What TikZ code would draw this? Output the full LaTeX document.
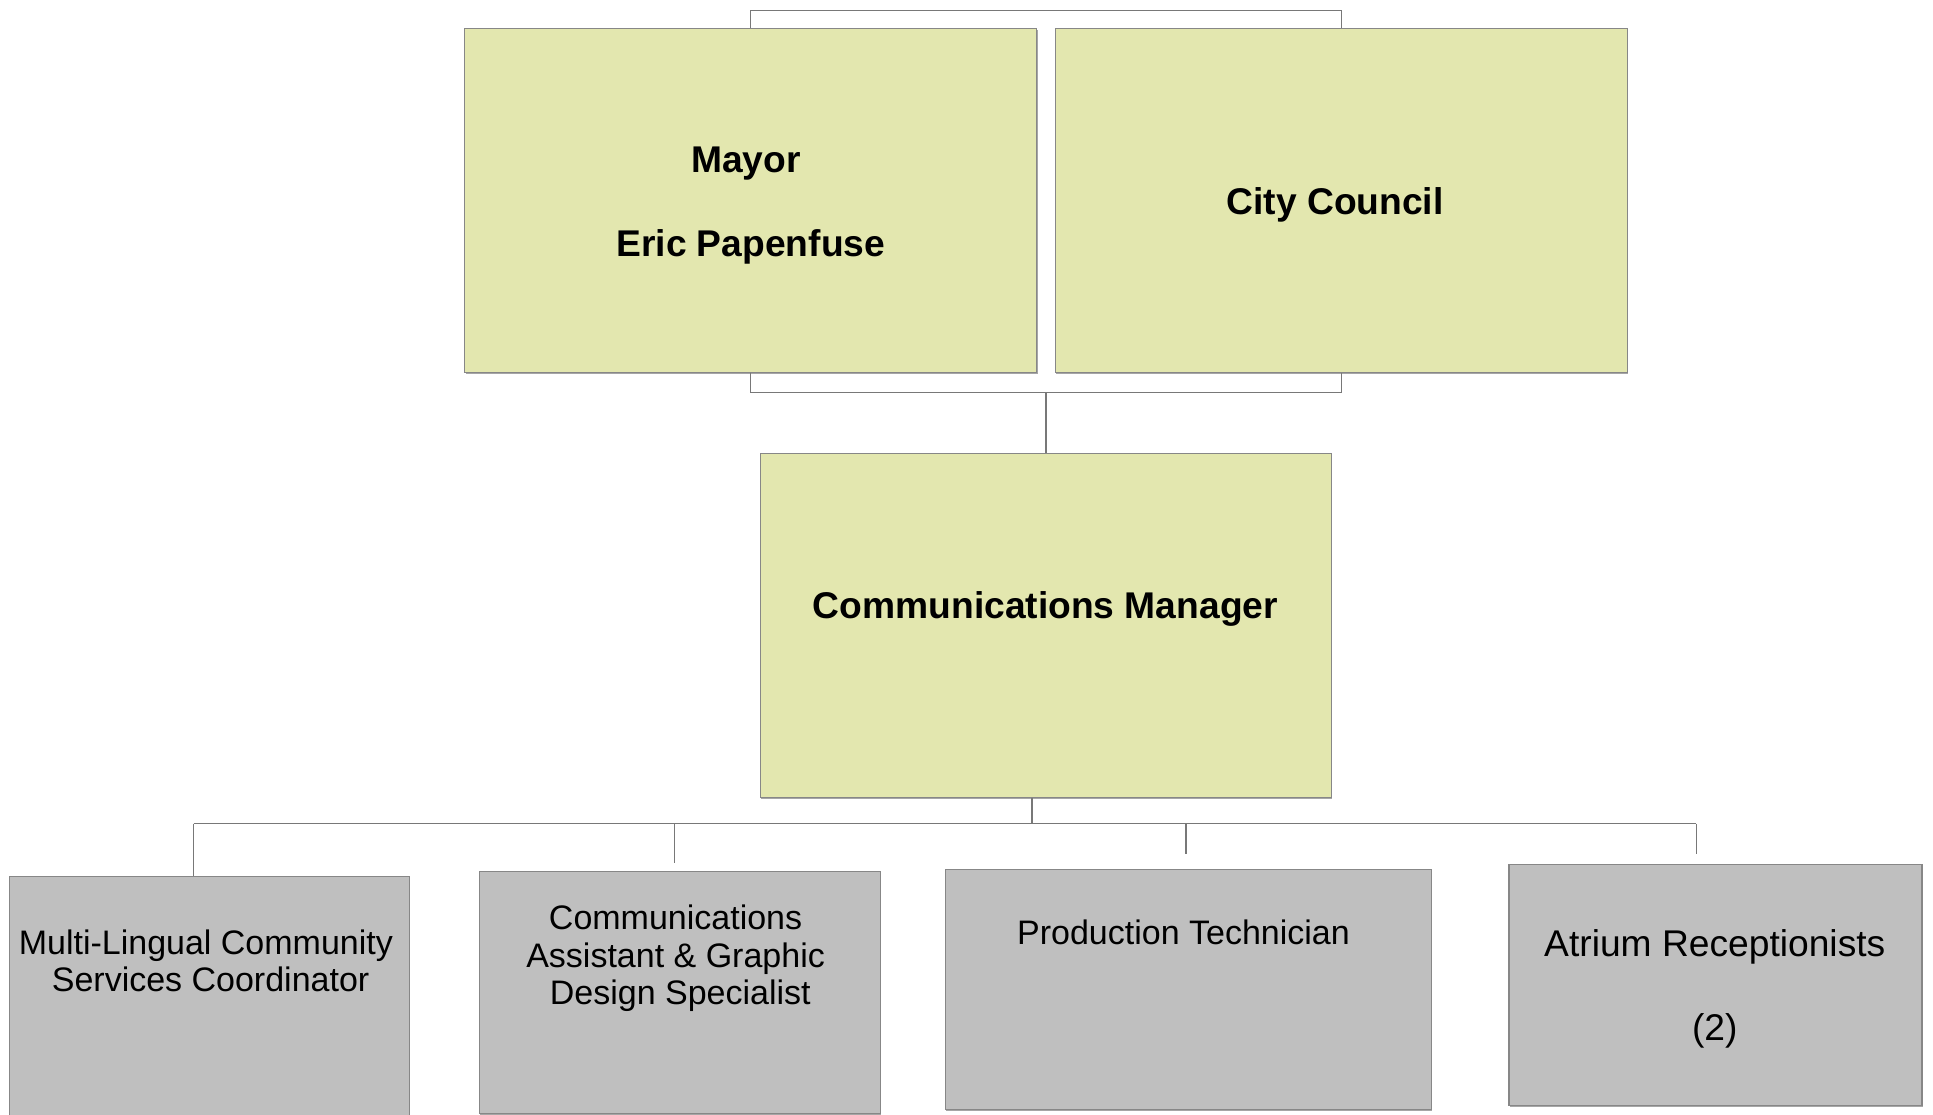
\documentclass[tikz,border=0pt]{standalone}
\usepackage{fontspec}
\setmainfont{Liberation Sans}
\usetikzlibrary{fit,shadows}
\definecolor{boxyel}{RGB}{227,231,175}
\definecolor{boxgray}{RGB}{191,191,191}
\definecolor{edgegray}{RGB}{135,135,135}
\definecolor{linegray}{RGB}{120,120,120}
\begin{document}
\begin{tikzpicture}[x=0.6164pt,y=-0.6164pt,
  basebox/.style={rectangle, draw=edgegray, line width=0.6pt, inner sep=0pt,
    drop shadow={shadow xshift=0.4pt, shadow yshift=-0.7pt, opacity=0.35, fill=black}},
  ybox/.style={basebox, fill=boxyel},
  gbox/.style={basebox, fill=boxgray},
  btext/.style={inner sep=0pt, font=\fontsize{18.6}{20}\selectfont\bfseries},
  rtext/.style={inner sep=0pt, align=center, font=\fontsize{17}{18.8}\selectfont},
  ltext/.style={inner sep=0pt, font=\fontsize{18.6}{20}\selectfont},
  conn/.style={draw=linegray, line width=0.7pt}]
\path[use as bounding box, clip] (0,0) rectangle (1568,904);
\fill[white] (0,0) rectangle (1568,904);

% top boxes
\node[ybox, fit={(377,23)(841,302)}] (mayor) {};
\node[ybox, fit={(856,23)(1320,302)}] (council) {};
\node[ybox, fit={(617,368)(1080,647)}] (cm) {};

% bottom boxes
\node[gbox, fit={(8,711)(332,912)}] (mlc) {};
\node[gbox, fit={(389,707)(714,903.5)}] (cas) {};
\node[gbox, fit={(767,705)(1161,900)}] (pt) {};
\node[gbox, fit={(1224,701)(1559,897)}] (ar) {};

% texts
\node[btext] (t-mayor) at (605,133) {Mayor};
\node[btext] (t-eric) at (609,200) {Eric Papenfuse};
\node[btext] (t-council) at (1083,166) {City Council};
\node[btext] (t-cm) at (848,494) {Communications Manager};
\node[rtext] (t-mlc) at (167,779.5) {Multi-Lingual Community\\\ Services Coordinator};
\node[rtext] (t-cas) at (548,777.5) {Communications\\Assistant \& Graphic\\\ Design Specialist};
\node[rtext] (t-pt) at (960,756.5) {Production Technician};
\node[ltext] (t-ar) at (1391,768) {Atrium Receptionists};
\node[ltext] (t-ar2) at (1391,836) {(2)};

% connectors between top boxes
\draw[conn] (mayor.north) -- ++(0,-14) -| (council.north);
\draw[conn] (mayor.south) -- ++(0,16) coordinate (bl) -| (council.south);
\coordinate (bmid) at (bl -| cm.north);
\draw[conn] (bmid) -- (cm.north);

% connectors to bottom row
\coordinate (cmout) at (837,647);
\coordinate (hub) at (837,668);
\coordinate (d1) at (157,668);
\coordinate (d2) at (547,668);
\coordinate (d3) at (962,668);
\coordinate (d4) at (1376,668);
\coordinate (e2) at (547,700);
\coordinate (e3) at (962,693);
\coordinate (e4) at (1376,693);
\draw[conn] (cmout) -- (hub);
\draw[conn] (d1) -- (d4);
\draw[conn] (d1) -- (d1 |- mlc.north);
\draw[conn] (d2) -- (e2);
\draw[conn] (d3) -- (e3);
\draw[conn] (d4) -- (e4);
\end{tikzpicture}
\end{document}
